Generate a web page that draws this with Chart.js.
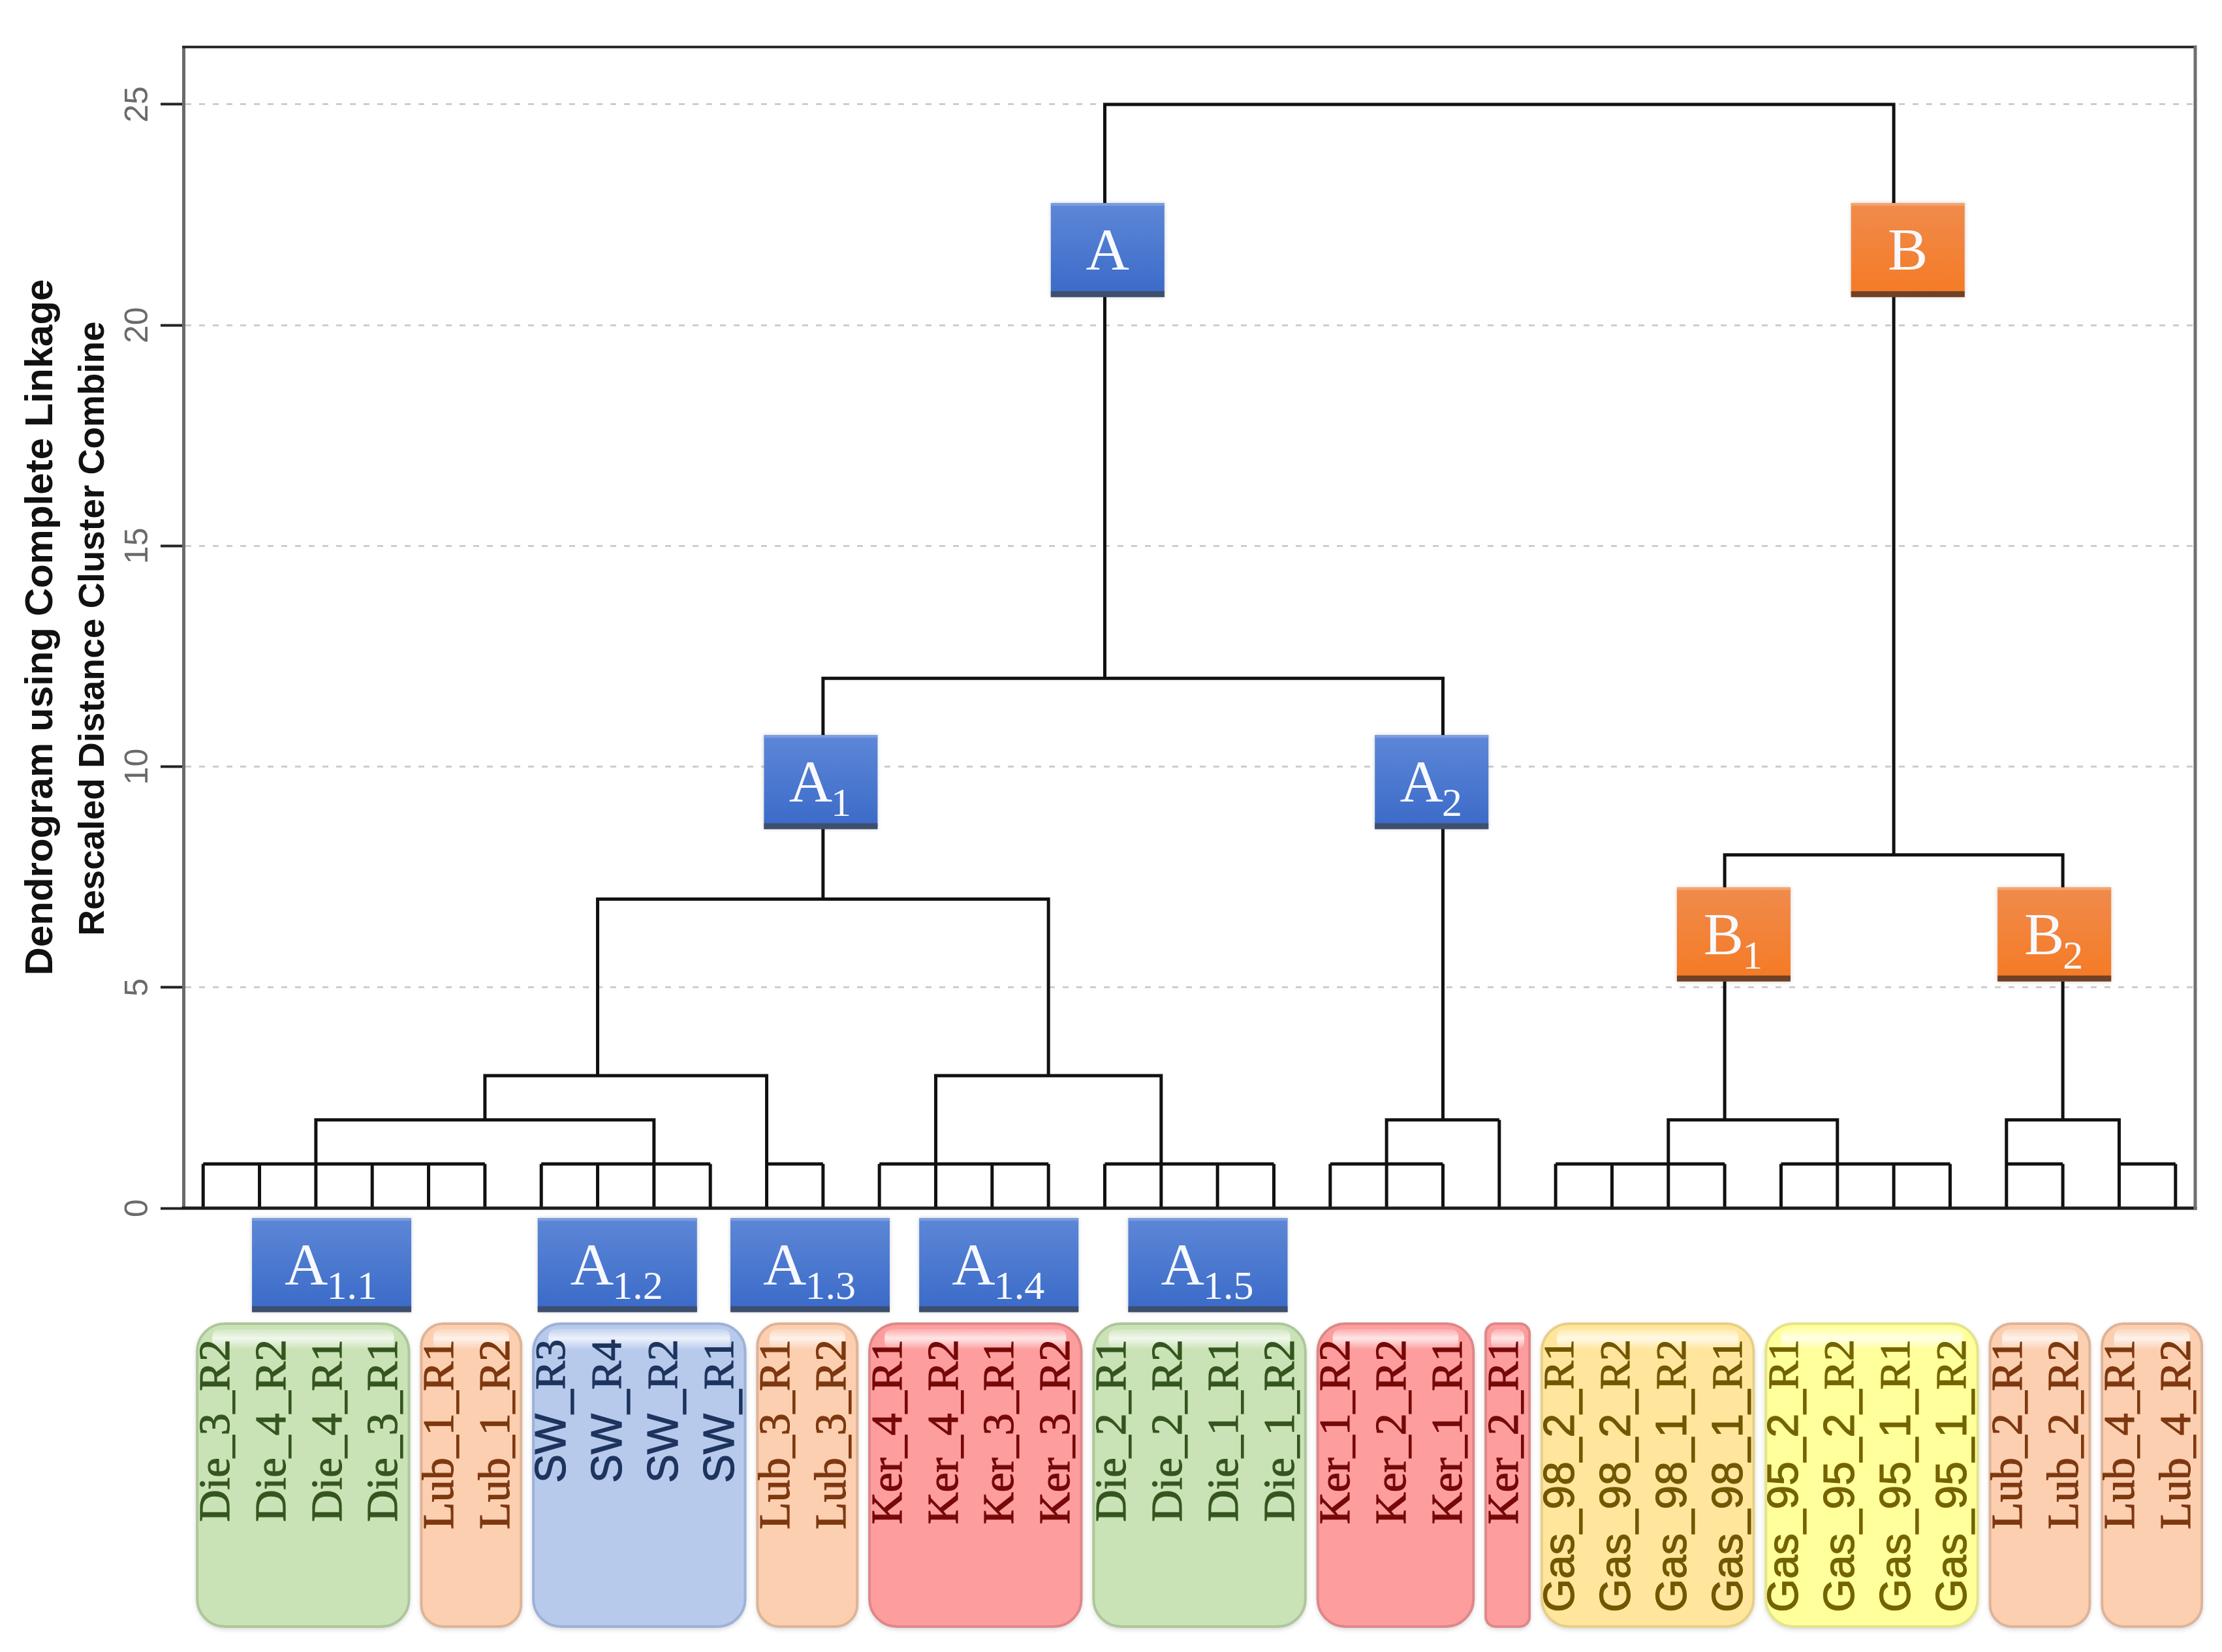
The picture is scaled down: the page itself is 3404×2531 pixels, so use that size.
<!DOCTYPE html>
<html>
<head>
<meta charset="utf-8">
<script src="https://cdn.jsdelivr.net/npm/chart.js@4.4.1/dist/chart.umd.min.js"></script>
<style>
  html, body { margin: 0; padding: 0; background: #fff; }
  canvas { display: block; }
</style>
</head>
<body>
<canvas id="dendro" width="3404" height="2531"></canvas>
<script>
// leaves, left to right
const leafLabels = [
  'Die_3_R2', 'Die_4_R2', 'Die_4_R1', 'Die_3_R1',
  'Lub_1_R1', 'Lub_1_R2',
  'SW_R3', 'SW_R4', 'SW_R2', 'SW_R1',
  'Lub_3_R1', 'Lub_3_R2',
  'Ker_4_R1', 'Ker_4_R2', 'Ker_3_R1', 'Ker_3_R2',
  'Die_2_R1', 'Die_2_R2', 'Die_1_R1', 'Die_1_R2',
  'Ker_1_R2', 'Ker_2_R2', 'Ker_1_R1',
  'Ker_2_R1',
  'Gas_98_2_R1', 'Gas_98_2_R2', 'Gas_98_1_R2', 'Gas_98_1_R1',
  'Gas_95_2_R1', 'Gas_95_2_R2', 'Gas_95_1_R1', 'Gas_95_1_R2',
  'Lub_2_R1', 'Lub_2_R2',
  'Lub_4_R1', 'Lub_4_R2'
];
// height where each leaf first joins
const leafJoin = [1,1,1,1,1,1,1,1,1,1,1,1,1,1,1,1,1,1,1,1,1,1,1,2,1,1,1,1,1,1,1,1,1,1,1,1];

// merges: left leaf, right leaf, merge height, where each side starts
const mergeFrom     = [0, 6, 10, 12, 16, 20, 24, 28, 32, 34, 2, 21, 26, 32, 5, 13, 7, 11, 27, 16];
const mergeTo       = [5, 9, 11, 15, 19, 22, 27, 31, 33, 35, 8, 23, 29, 34, 10, 17, 15, 22, 33, 30];
const mergeHeight   = [1, 1, 1, 1, 1, 1, 1, 1, 1, 1, 2, 2, 2, 2, 3, 3, 7, 12, 8, 25];
const mergeFromBase = [1, 1, 1, 1, 1, 1, 1, 1, 1, 1, 1, 1, 1, 1, 2, 1, 3, 7, 2, 12];
const mergeToBase   = [1, 1, 1, 1, 1, 1, 1, 1, 1, 1, 1, 2, 1, 1, 1, 1, 3, 2, 2, 8];

const yTicks = [0, 5, 10, 15, 20, 25];

// coloured groups under the leaves
const groupFirst = [0, 4, 6, 10, 12, 16, 20, 23, 24, 28, 32, 34];
const groupLast  = [3, 5, 9, 11, 15, 19, 22, 23, 27, 31, 33, 35];
const groupKind  = ['Die', 'Lub', 'SW', 'Lub', 'Ker', 'Die', 'Ker', 'Ker', 'Gas98', 'Gas95', 'Lub', 'Lub'];

// cluster tags (node position on the tree)
const tagNames = ['A', 'B', 'A', 'A', 'B', 'B', 'A', 'A', 'A', 'A', 'A'];
const tagSubs  = ['', '', '1', '2', '1', '2', '1.1', '1.2', '1.3', '1.4', '1.5'];
const tagX     = [16.05, 30.25, 10.96, 21.8, 27.16, 32.85, 2.28, 7.35, 10.77, 14.12, 17.83];
const tagY     = [21.7, 21.7, 9.65, 9.65, 6.2, 6.2, -1.29, -1.29, -1.29, -1.29, -1.29];

const kindStyle = {
  Die:   { fill: '#c9e2b6', edge: '#adc79b', text: '#35551f', sans: false },
  Lub:   { fill: '#fbcfb0', edge: '#e0b396', text: '#7e3810', sans: false },
  SW:    { fill: '#b8caec', edge: '#9db1d8', text: '#1d345e', sans: true },
  Ker:   { fill: '#fd9d9e', edge: '#df8788', text: '#760808', sans: false },
  Gas98: { fill: '#ffe69c', edge: '#e8cf86', text: '#735600', sans: true },
  Gas95: { fill: '#ffff9c', edge: '#e4e489', text: '#736400', sans: true }
};

// build the tree as one broken polyline
const treePoints = [];
leafJoin.forEach((h, i) => {
  treePoints.push({x: i, y: 0}, {x: i, y: h}, {x: i, y: null});
});
mergeFrom.forEach((l, k) => {
  const r = mergeTo[k], h = mergeHeight[k];
  treePoints.push(
    {x: l, y: mergeFromBase[k]}, {x: l, y: h},
    {x: r, y: h}, {x: r, y: mergeToBase[k]},
    {x: r, y: null}
  );
});

function rrect(ctx, x, y, w, h, r) {
  r = Math.min(r, w / 2, h / 2);
  ctx.beginPath();
  ctx.moveTo(x + r, y);
  ctx.arcTo(x + w, y, x + w, y + h, r);
  ctx.arcTo(x + w, y + h, x, y + h, r);
  ctx.arcTo(x, y + h, x, y, r);
  ctx.arcTo(x, y, x + w, y, r);
  ctx.closePath();
}

function drawTag(ctx, cx, cy, name, sub) {
  const w = sub.length > 1 ? 244 : 174, h = 144;
  const x = cx - w / 2, y = cy - h / 2;
  const blue = name === 'A';
  const g = ctx.createLinearGradient(0, y, 0, y + h);
  if (blue) { g.addColorStop(0, '#5d87d7'); g.addColorStop(1, '#3a6ac8'); }
  else { g.addColorStop(0, '#f08b4c'); g.addColorStop(1, '#f57a24'); }
  ctx.save();
  ctx.shadowColor = 'rgba(0,0,0,0.18)';
  ctx.shadowBlur = 6;
  ctx.fillStyle = g;
  ctx.fillRect(x, y, w, h);
  ctx.restore();
  ctx.fillStyle = blue ? '#7b9de0' : '#f6a36e';
  ctx.fillRect(x, y, w, 4);
  ctx.fillStyle = blue ? '#3e4f6e' : '#6f4126';
  ctx.fillRect(x, y + h - 9, w, 9);

  ctx.fillStyle = '#f7f9ff';
  ctx.textBaseline = 'alphabetic';
  ctx.textAlign = 'left';
  const mainFont = '92px "Liberation Serif"', subFont = '62px "Liberation Serif"';
  ctx.font = mainFont;
  const wm = ctx.measureText(name).width;
  ctx.font = subFont;
  const ws = sub ? ctx.measureText(sub).width : 0;
  const sx = cx - (wm + ws) / 2;
  ctx.font = mainFont;
  ctx.fillText(name, sx, cy + 30);
  if (sub) {
    ctx.font = subFont;
    ctx.fillText(sub, sx + wm - 2, cy + 52);
  }
}

const decor = {
  id: 'decor',
  afterDatasetsDraw(chart) {
    const {ctx, chartArea: a} = chart;
    ctx.save();
    ctx.lineCap = 'square';
    ctx.strokeStyle = '#2b2b2b';
    ctx.lineWidth = 4;
    ctx.beginPath(); ctx.moveTo(a.left, a.top); ctx.lineTo(a.right, a.top); ctx.stroke();
    ctx.strokeStyle = '#1c1c1c';
    ctx.lineWidth = 5;
    ctx.beginPath(); ctx.moveTo(a.left, a.bottom); ctx.lineTo(a.right, a.bottom); ctx.stroke();
    ctx.strokeStyle = '#707070';
    ctx.lineWidth = 5;
    ctx.beginPath(); ctx.moveTo(a.right, a.top); ctx.lineTo(a.right, a.bottom); ctx.stroke();
    ctx.restore();
  },
  afterDraw(chart) {
    const {ctx, chartArea: a} = chart;
    const xs = chart.scales.x, ys = chart.scales.y, xl = chart.scales.xl;

    // axis titles
    ctx.save();
    ctx.fillStyle = '#111';
    ctx.textAlign = 'center';
    ctx.textBaseline = 'alphabetic';
    ctx.translate(80, 961);
    ctx.rotate(-Math.PI / 2);
    ctx.font = 'bold 60px "Liberation Sans"';
    ctx.fillText('Dendrogram using Complete Linkage', 0, 0);
    ctx.restore();
    ctx.save();
    ctx.fillStyle = '#111';
    ctx.textAlign = 'center';
    ctx.textBaseline = 'alphabetic';
    ctx.translate(159, 963);
    ctx.rotate(-Math.PI / 2);
    ctx.font = 'bold 55px "Liberation Sans"';
    ctx.fillText('Rescaled Distance Cluster Combine', 0, 0);
    ctx.restore();

    // cluster tags
    tagNames.forEach((n, i) => {
      drawTag(ctx, xs.getPixelForValue(tagX[i]), ys.getPixelForValue(tagY[i]), n, tagSubs[i]);
    });

    // group pills
    const pillTop = a.bottom + 177, pillBottom = a.bottom + 641;
    groupFirst.forEach((f, k) => {
      const st = kindStyle[groupKind[k]];
      const x0 = xl.getPixelForValue(f - 0.36), x1 = xl.getPixelForValue(groupLast[k] + 0.42);
      const w = x1 - x0, h = pillBottom - pillTop;
      const r = Math.min(42, w * 0.22);
      ctx.save();
      ctx.shadowColor = 'rgba(0,0,0,0.22)';
      ctx.shadowBlur = 8;
      ctx.shadowOffsetY = 3;
      rrect(ctx, x0, pillTop, w, h, r);
      ctx.fillStyle = st.fill;
      ctx.fill();
      ctx.restore();
      ctx.save();
      rrect(ctx, x0, pillTop, w, h, r);
      ctx.lineWidth = 4;
      ctx.strokeStyle = st.edge;
      ctx.stroke();
      // top highlight
      const hg = ctx.createLinearGradient(0, pillTop + 8, 0, pillTop + 40);
      hg.addColorStop(0, 'rgba(255,255,255,0.15)');
      hg.addColorStop(0.45, 'rgba(255,255,255,0.75)');
      hg.addColorStop(1, 'rgba(255,255,255,0)');
      rrect(ctx, x0 + r * 0.55, pillTop + 8, w - r * 1.1, 32, 12);
      ctx.fillStyle = hg;
      ctx.fill();
      ctx.restore();

      // leaf names
      for (let i = f; i <= groupLast[k]; i++) {
        const name = leafLabels[i];
        const cut = name.lastIndexOf('_') + 1;
        ctx.save();
        ctx.translate(xl.getPixelForValue(i), a.bottom + 201);
        ctx.rotate(-Math.PI / 2);
        ctx.fillStyle = st.text;
        ctx.strokeStyle = st.text;
        ctx.lineWidth = 1.2;
        ctx.textAlign = 'right';
        ctx.textBaseline = 'middle';
        if (st.sans) {
          ctx.font = '66px "Liberation Serif"';
          const tail = name.slice(cut);
          const wt = ctx.measureText(tail).width;
          ctx.fillText(tail, 0, 0);
          ctx.strokeText(tail, 0, 0);
          ctx.font = '66px "Liberation Sans"';
          ctx.fillText(name.slice(0, cut), -wt, 0);
          ctx.strokeText(name.slice(0, cut), -wt, 0);
        } else {
          ctx.font = '68px "Liberation Serif"';
          ctx.fillText(name, 0, 0);
          ctx.strokeText(name, 0, 0);
        }
        ctx.restore();
      }
    });
  }
};

window.onload = function () {
  const ctx = document.getElementById('dendro').getContext('2d');
  new Chart(ctx, {
    type: 'scatter',
    data: {
      datasets: [{
        label: 'Dendrogram',
        data: treePoints,
        showLine: true,
        spanGaps: false,
        borderColor: '#111111',
        borderWidth: 5,
        borderJoinStyle: 'miter',
        pointRadius: 0,
        pointHoverRadius: 0,
        tension: 0
      }]
    },
    options: {
      responsive: false,
      animation: false,
      devicePixelRatio: 1,
      layout: { padding: { left: 161, right: 41, top: 72, bottom: 680 } },
      plugins: { legend: { display: false }, tooltip: { enabled: false } },
      scales: {
        x: { type: 'linear', min: -0.35, max: 35.35, display: false },
        xl: { type: 'linear', axis: 'x', position: 'bottom', min: -0.606, max: 35.303, display: false },
        y: {
          type: 'linear',
          min: 0,
          max: 26.3,
          afterBuildTicks: s => { s.ticks = yTicks.map(v => ({ value: v })); },
          afterFit: s => { s.width = 120; },
          ticks: {
            minRotation: 90,
            maxRotation: 90,
            crossAlign: 'center',
            padding: 6,
            color: '#6a6a6a',
            font: { family: 'Liberation Sans', size: 50 }
          },
          grid: {
            color: '#cdcdcd',
            lineWidth: 3,
            tickLength: 35,
            tickColor: '#222',
            tickWidth: 4
          },
          border: { display: true, color: '#6a6a6a', width: 5, dash: [9, 12] }
        }
      }
    },
    plugins: [decor]
  });
};
</script>
</body>
</html>
